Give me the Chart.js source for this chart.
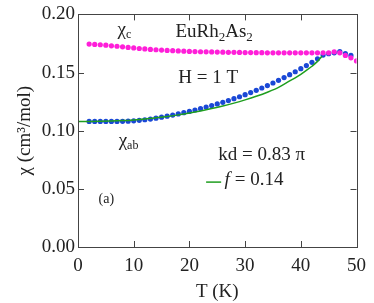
<!DOCTYPE html>
<html>
<head>
<meta charset="utf-8">
<script src="https://cdn.jsdelivr.net/npm/chart.js@4.4.1/dist/chart.umd.min.js"></script>
<style>
  html, body { margin: 0; padding: 0; background: #fff; }
  #wrap { width: 374px; height: 303px; }
</style>
</head>
<body>
<div id="wrap"><canvas id="chart"></canvas></div>
<script>
// temperatures (K) and susceptibility (cm^3/mol)
const tempC = [2,3,4,5,6,7,8,9,10,11,12,13,14,15,16,17,18,19,20,21,22,23,24,25,26,
  27,28,29,30,31,32,33,34,35,36,37,38,39,40,41,42,43,44,45,46,47,48,49,50];
const chiC = [0.1745,0.1742,0.1739,0.1735,0.1730,0.1726,0.1721,0.1716,0.1712,0.1707,
  0.1703,0.1699,0.1696,0.1693,0.1690,0.1688,0.1686,0.1684,0.1682,0.1680,0.1679,0.1678,
  0.1677,0.1676,0.1675,0.1674,0.1674,0.1673,0.1672,0.1672,0.1671,0.1671,0.1670,0.1670,
  0.1670,0.1670,0.1670,0.1670,0.1670,0.1670,0.1670,0.1670,0.1670,0.1670,0.1678,0.1670,
  0.1647,0.1627,0.1600];

const tempAb = [2,3,4,5,6,7,8,9,10,11,12,13,14,15,16,17,18,19,20,21,22,23,24,25,26,
  27,28,29,30,31,32,33,34,35,36,37,38,39,40,41,42,43,44,45,46,47,48,49];
const chiAb = [0.1080,0.1080,0.1080,0.1080,0.1080,0.1080,0.1081,0.1082,0.1085,0.1089,
  0.1094,0.1100,0.1108,0.1116,0.1125,0.1134,0.1144,0.1155,0.1166,0.1178,0.1190,0.1203,
  0.1216,0.1230,0.1244,0.1259,0.1275,0.1292,0.1310,0.1328,0.1347,0.1367,0.1388,0.1410,
  0.1433,0.1457,0.1482,0.1507,0.1533,0.1560,0.1588,0.1618,0.1650,0.1662,0.1670,0.1680,
  0.1664,0.1647];

const tempFit = [0,2,4,6,8,10,12,14,16,18,20,22,24,26,28,30,32,34,36,38,39,40,41,42,43,43.8];
const chiFit = [0.1080,0.1080,0.1081,0.1083,0.1087,0.1093,0.1101,0.1111,0.1122,0.1136,
  0.1152,0.1170,0.1190,0.1212,0.1237,0.1265,0.1296,0.1331,0.1372,0.1428,0.1455,0.1485,
  0.1518,0.1554,0.1596,0.1640];

const xTicks = [0, 10, 20, 30, 40, 50];
const yTicks = [0, 0.05, 0.10, 0.15, 0.20];

const serif = '"Liberation Serif", "Times New Roman", serif';
const ink = '#222';

function toPoints(xs, ys) {
  return xs.map((x, i) => ({ x: x, y: ys[i] }));
}

// draws a run of text pieces (with subscripts / italics) starting at x, y
function drawRich(ctx, x, y, parts) {
  parts.forEach(p => {
    ctx.font = (p.italic ? 'italic ' : '') + (p.size || 19) + 'px ' + serif;
    ctx.fillText(p.t, x, y + (p.dy || 0));
    x += ctx.measureText(p.t).width + (p.gap || 0);
  });
}

const framePlugin = {
  id: 'frame',
  afterDatasetsDraw(chart) {
    const ctx = chart.ctx;
    const a = chart.chartArea;
    const xs = chart.scales.x, ys = chart.scales.y;
    ctx.save();
    ctx.strokeStyle = '#444';
    ctx.lineWidth = 1;
    ctx.strokeRect(Math.round(a.left) + 0.5, Math.round(a.top) + 0.5,
      Math.round(a.right - a.left), Math.round(a.bottom - a.top));
    // inward tick marks on all four sides
    ctx.beginPath();
    xTicks.slice(1, -1).forEach(v => {
      const px = Math.round(xs.getPixelForValue(v)) + 0.5;
      ctx.moveTo(px, a.bottom); ctx.lineTo(px, a.bottom - 6);
      ctx.moveTo(px, a.top); ctx.lineTo(px, a.top + 6);
    });
    yTicks.slice(1, -1).forEach(v => {
      const py = Math.round(ys.getPixelForValue(v)) + 0.5;
      ctx.moveTo(a.left, py); ctx.lineTo(a.left + 6, py);
      ctx.moveTo(a.right, py); ctx.lineTo(a.right - 6, py);
    });
    ctx.stroke();

    // annotations, placed in data coordinates
    const X = v => xs.getPixelForValue(v);
    const Y = v => ys.getPixelForValue(v);
    ctx.fillStyle = ink;
    ctx.textBaseline = 'alphabetic';
    ctx.textAlign = 'left';
    drawRich(ctx, X(7.1), Y(0.1825), [{ t: 'χ' }, { t: 'c', size: 12, dy: 3 }]);
    drawRich(ctx, X(17.5), Y(0.1803), [
      { t: 'EuRh' }, { t: '2', size: 13, dy: 4 }, { t: 'As' }, { t: '2', size: 13, dy: 4 }]);
    drawRich(ctx, X(18), Y(0.1413), [{ t: 'H = 1 T' }]);
    drawRich(ctx, X(7.3), Y(0.0872), [{ t: 'χ' }, { t: 'ab', size: 12, dy: 3 }]);
    drawRich(ctx, X(25.2), Y(0.0752), [{ t: 'kd = 0.83 π' }]);
    drawRich(ctx, X(26.3), Y(0.0530), [{ t: 'f', italic: true, gap: 5 }, { t: '= 0.14' }]);
    drawRich(ctx, X(3.7), Y(0.0376), [{ t: '(a)', size: 14 }]);
    // legend dash for the fit line
    ctx.strokeStyle = '#1f9e1f';
    ctx.lineWidth = 1.5;
    ctx.beginPath();
    ctx.moveTo(X(23.0), Y(0.0558));
    ctx.lineTo(X(25.7), Y(0.0558));
    ctx.stroke();
    ctx.restore();
  }
};

function build() {
  new Chart(document.getElementById('chart'), {
    type: 'scatter',
    data: {
      datasets: [
        {
          label: 'chi_c',
          data: toPoints(tempC, chiC),
          backgroundColor: '#ff1fd9',
          borderColor: '#ff1fd9',
          pointRadius: 2.6,
          borderWidth: 0
        },
        {
          label: 'fit',
          data: toPoints(tempFit, chiFit),
          showLine: true,
          borderColor: '#1f9e1f',
          borderWidth: 1.5,
          pointRadius: 0,
          cubicInterpolationMode: 'monotone'
        },
        {
          label: 'chi_ab',
          data: toPoints(tempAb, chiAb),
          backgroundColor: '#1a48d6',
          borderColor: '#1a48d6',
          pointRadius: 2.6,
          borderWidth: 0
        }
      ]
    },
    options: {
      responsive: true,
      maintainAspectRatio: false,
      animation: false,
      layout: { padding: { left: 0, top: 13, right: 13, bottom: 0 } },
      plugins: { legend: { display: false }, tooltip: { enabled: false } },
      scales: {
        x: {
          min: 0, max: 50,
          grid: { display: false, drawTicks: false },
          border: { display: false },
          afterBuildTicks: s => { s.ticks = xTicks.map(v => ({ value: v })); },
          afterFit: s => { s.height = 56; },
          ticks: { color: ink, padding: 8, maxRotation: 0, font: { family: serif, size: 19 } },
          title: {
            display: true, text: 'T (K)', color: ink,
            font: { family: serif, size: 19 }, padding: { top: 0, bottom: 0 }
          }
        },
        y: {
          min: 0, max: 0.2,
          grid: { display: false, drawTicks: false },
          border: { display: false },
          afterBuildTicks: s => { s.ticks = yTicks.map(v => ({ value: v })); },
          afterFit: s => { s.width = 78; },
          ticks: {
            color: ink, padding: 3, font: { family: serif, size: 19 },
            callback: v => v.toFixed(2)
          },
          title: {
            display: true, text: 'χ (cm³/mol)', color: ink,
            font: { family: serif, size: 19 }, padding: { top: 14, bottom: 0 }
          }
        }
      }
    },
    plugins: [framePlugin]
  });
}

Promise.all([
  document.fonts.load('19px "Liberation Serif"'),
  document.fonts.load('italic 19px "Liberation Serif"')
]).then(build, build);
</script>
</body>
</html>
